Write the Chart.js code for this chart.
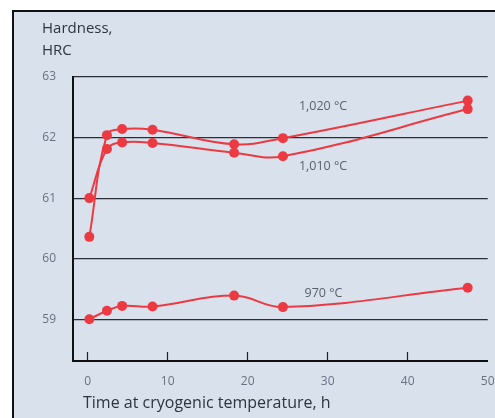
<!DOCTYPE html>
<html>
<head>
<meta charset="utf-8">
<script src="https://cdn.jsdelivr.net/npm/chart.js@4/dist/chart.umd.min.js"></script>
<style>
  html, body { margin: 0; padding: 0; background: #fff; }
  #wrap { width: 495px; height: 418px; }
</style>
</head>
<body>
<div id="wrap"><canvas id="chart" width="495" height="418"></canvas></div>
<script>
// hours at cryogenic temperature
const hours1020 = [0.2, 2.4, 4.3, 8.1, 18.3, 24.4, 47.5];
const hrc1020   = [60.36, 62.04, 62.14, 62.13, 61.89, 61.99, 62.61];

const hours1010 = [0.2, 2.4, 4.3, 8.1, 18.3, 24.4, 47.5];
const hrc1010   = [61.0, 61.81, 61.92, 61.91, 61.75, 61.69, 62.47];

const hours970 = [0.2, 2.4, 4.3, 8.1, 18.3, 24.4, 47.5];
const hrc970   = [59.0, 59.14, 59.22, 59.21, 59.39, 59.2, 59.52];

const seriesLabels = ['1,020 °C', '1,010 °C', '970 °C'];
const xTicks = [0, 10, 20, 30, 40, 50];
const yTicks = [59, 60, 61, 62, 63];

const RED = '#ec3a42';
const BG = '#d8e1ec';
const FONT = "'Open Sans', 'Noto Sans', sans-serif";

const toPoints = (xs, ys) => xs.map((x, i) => ({ x, y: ys[i] }));

const makeSet = (label, xs, ys) => ({
  label,
  data: toPoints(xs, ys),
  borderColor: RED,
  backgroundColor: RED,
  borderWidth: 2,
  pointRadius: 5,
  pointBorderWidth: 0,
  showLine: true,
  tension: 0.4,
});

// frame + panel background
const panel = {
  id: 'panel',
  beforeDraw(chart) {
    const ctx = chart.ctx;
    ctx.save();
    ctx.fillStyle = '#fff';
    ctx.fillRect(0, 0, chart.width, chart.height);
    ctx.fillStyle = BG;
    ctx.fillRect(12, 10, chart.width - 12, chart.height - 10);
    ctx.fillStyle = '#111';
    ctx.fillRect(12, 10, 2, chart.height - 10);
    ctx.fillRect(12, 10, chart.width - 12, 2);
    ctx.restore();
  }
};

// titles and curve labels
const texts = {
  id: 'texts',
  afterDraw(chart) {
    const ctx = chart.ctx;
    const x = chart.scales.x, y = chart.scales.y;
    ctx.save();
    ctx.textBaseline = 'middle';
    ctx.textAlign = 'left';
    ctx.fillStyle = '#2e3440';
    ctx.font = `15px ${FONT}`;
    ctx.fillText('Hardness,', 42, 29);
    ctx.fillText('HRC', 42, 51);
    ctx.font = `16px ${FONT}`;
    ctx.fillText('Time at cryogenic temperature, h', 83, 403);

    ctx.fillStyle = '#5a5f6a';
    ctx.font = `12.5px ${FONT}`;
    ctx.fillText(seriesLabels[0], x.getPixelForValue(26.4), y.getPixelForValue(62.51));
    ctx.fillText(seriesLabels[1], x.getPixelForValue(26.4), y.getPixelForValue(61.52));
    ctx.fillText(seriesLabels[2], x.getPixelForValue(27.1), y.getPixelForValue(59.43));
    ctx.restore();
  }
};

new Chart(document.getElementById('chart'), {
  type: 'scatter',
  data: {
    datasets: [
      makeSet(seriesLabels[0], hours1020, hrc1020),
      makeSet(seriesLabels[1], hours1010, hrc1010),
      makeSet(seriesLabels[2], hours970, hrc970),
    ]
  },
  options: {
    responsive: false,
    animation: false,
    layout: { padding: { top: 77, right: 7.3, left: 0, bottom: 0 } },
    plugins: {
      legend: { display: false },
      tooltip: { enabled: false },
    },
    scales: {
      x: {
        type: 'linear',
        min: -1.84,
        max: 50,
        afterFit: s => { s.height = 57; s.paddingLeft = 0; s.paddingRight = 0; },
        afterBuildTicks: s => { s.ticks = xTicks.map(v => ({ value: v })); },
        ticks: {
          padding: 22,
          color: '#6b7080',
          font: { family: FONT, size: 12 },
          maxRotation: 0,
        },
        grid: {
          drawOnChartArea: false,
          drawTicks: true,
          tickLength: -9,
          tickWidth: 1.2,
          tickColor: ctx => (ctx.tick && ctx.tick.value === 50 ? 'rgba(0,0,0,0)' : '#222'),
        },
        border: { display: true, color: '#111', width: 2 },
      },
      y: {
        type: 'linear',
        min: 58.31,
        max: 63,
        afterFit: s => { s.width = 73; s.paddingTop = 0; s.paddingBottom = 0; },
        afterBuildTicks: s => { s.ticks = yTicks.map(v => ({ value: v })); },
        ticks: {
          padding: 17,
          color: '#6b7080',
          font: { family: FONT, size: 12 },
        },
        grid: {
          drawTicks: false,
          color: '#2a2e36',
          lineWidth: 1.2,
        },
        border: { display: true, color: '#111', width: 2 },
      }
    }
  },
  plugins: [panel, texts]
});
</script>
</body>
</html>
